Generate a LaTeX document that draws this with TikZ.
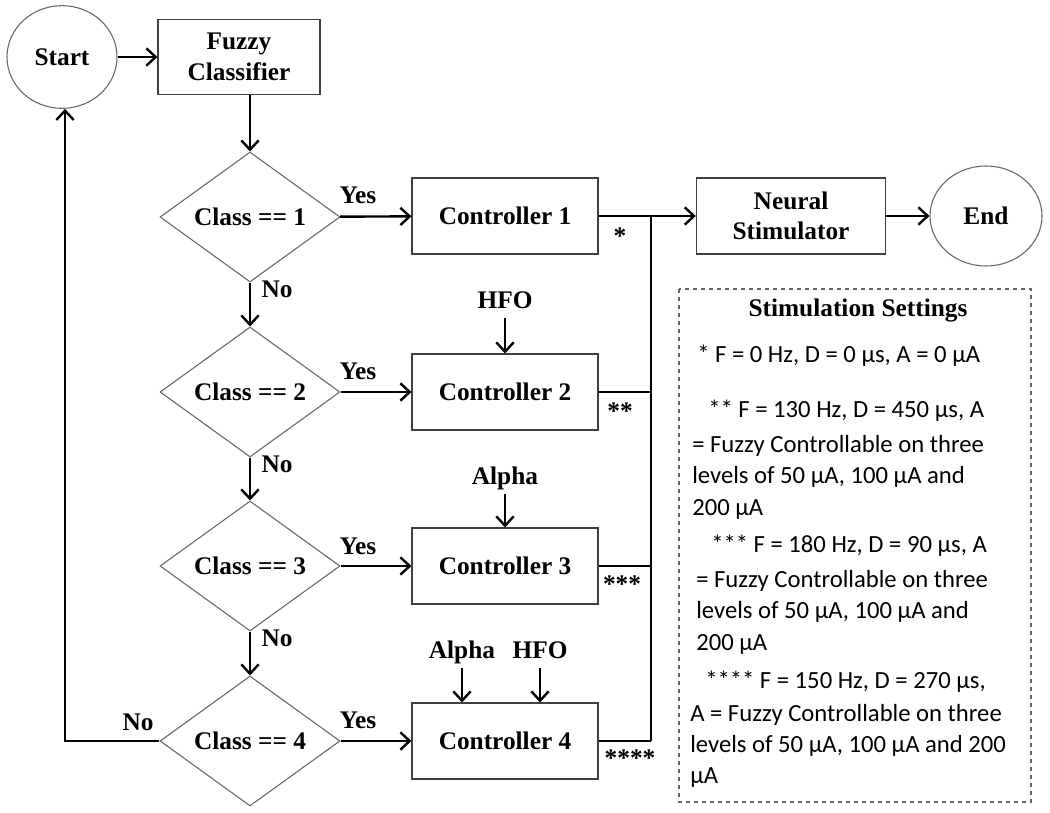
\documentclass[tikz,border=0pt]{standalone}
\usepackage{fontspec}
\setmainfont{Liberation Serif}
\newfontfamily\calfont{Carlito}
\usetikzlibrary{shapes.geometric,arrows.meta}

\begin{document}
\begin{tikzpicture}[x=0.75pt,y=-0.75pt,
  every node/.style={font=\fontsize{19}{23}\selectfont\bfseries},
  box/.style={shape=rectangle,draw=black!75,line width=0.8pt,minimum width=139.5pt,minimum height=57pt,align=center,inner sep=2pt},
  test/.style={shape=diamond,draw=black!60,line width=0.8pt,minimum width=135pt,minimum height=97.5pt,inner sep=0pt,aspect=1.4},
  term/.style={shape=ellipse,draw=black!60,line width=0.8pt,inner sep=0pt},
  flow/.style={-{Straight Barb[length=7pt,width=13pt]},line width=1.8pt},
  wire/.style={line width=1.8pt},
  input/.style={text height=13pt,text depth=4pt},
  setline/.style={anchor=west,inner sep=0pt,font=\fontsize{18.5}{21}\calfont}]
\useasboundingbox (0,0) rectangle (1050,813);

% start, classifier
\node (S) at (62,57) [term,minimum width=82.5pt,minimum height=77pt]{Start};
\node (F) at (239,57) [box,minimum width=121.5pt,minimum height=56pt]{Fuzzy\\Classifier};

% class tests
\node (D1) at (250,217) [test]{Class == 1};
\node (D2) at (250,392) [test]{Class == 2};
\node (D3) at (250,566) [test]{Class == 3};
\node (D4) at (250,741) [test]{Class == 4};

% controllers
\node (C1) at (505,216) [box]{Controller 1};
\node (C2) at (505,392) [box]{Controller 2};
\node (C3) at (505,566) [box]{Controller 3};
\node (C4) at (505,741) [box]{Controller 4};

% stimulator, end
\node (N) at (791,216) [box,minimum width=142pt]{Neural\\Stimulator};
\node (E) at (986,216) [term,minimum width=84pt,minimum height=75pt]{End};

% inputs of the controllers
\node (h2) at (505,302) [input]{HFO};
\node (a3) at (505,478) [input]{Alpha};
\node (a4) at (462,652) [input]{Alpha};
\node (h4) at (540,652) [input]{HFO};

% labels
\node (y1) at (358,195) {Yes};
\node (y2) at (358,371) {Yes};
\node (y3) at (358,546) {Yes};
\node (y4) at (358,720) {Yes};
\node (n1) at (277,289) {No};
\node (n2) at (277,464) {No};
\node (n3) at (277,638) {No};
\node (n4) at (138,722) {No};
\node (s1) at (620,236) {*};
\node (s2) at (620,411) {**};
\node (s3) at (622,584) {***};
\node (s4) at (630,758) {****};

% bus
\coordinate (b1) at (651,216);
\coordinate (b2) at (651,392);
\coordinate (b3) at (651,566);
\coordinate (b4) at (651,741);
\coordinate (back) at (65,741);

\draw [flow] (S) to (F);
\draw [flow] (F.south -| D1) to (D1.north);
\draw [flow] (D1) to (D2);
\draw [flow] (D2) to (D3);
\draw [flow] (D3) to (D4);
\draw [flow] (D1) to (C1);
\draw [flow] (D2) to (C2);
\draw [flow] (D3) to (C3);
\draw [flow] (D4) to (C4);
\draw [flow] (D4.west) -- (back) -- (back |- S.south);
\draw [flow] (h2) to (C2);
\draw [flow] (a3) to (C3);
\draw [flow] (a4.south) to (a4.south |- C4.north);
\draw [flow] (h4.south) to (h4.south |- C4.north);
\draw [flow] (C1) to (N);
\draw [flow] (N) to (E);
\draw [wire] (C2.east) -- (b2);
\draw [wire] (C3.east) -- (b3);
\draw [wire] (C4.east) -- (b4);
\draw [wire] (b1) -- (b4);

% settings
\draw [dashed,draw=black!60,line width=0.8pt] (679,289) rectangle (1031,802);
\node (st) at (858,311) {Stimulation Settings};
\foreach \i/\x/\y/\t in {
  1/697/356/{* F = 0 Hz, D = 0 µs, A = 0 µA},
  2/708/411/{** F = 130 Hz, D = 450 µs, A},
  3/692/446/{= Fuzzy Controllable on three},
  4/692/477/{levels of 50 µA, 100 µA and},
  5/692/509/{200 µA},
  6/711/546/{*** F = 180 Hz, D = 90 µs, A},
  7/696/581/{= Fuzzy Controllable on three},
  8/696/612/{levels of 50 µA, 100 µA and},
  9/696/644/{200 µA},
  10/705/682/{**** F = 150 Hz, D = 270 µs,},
  11/690/715/{A = Fuzzy Controllable on three},
  12/690/746/{levels of 50 µA, 100 µA and 200},
  13/690/778/{µA}}
  \node (l\i) at (\x,\y) [setline]{\t};
\end{tikzpicture}
\end{document}
